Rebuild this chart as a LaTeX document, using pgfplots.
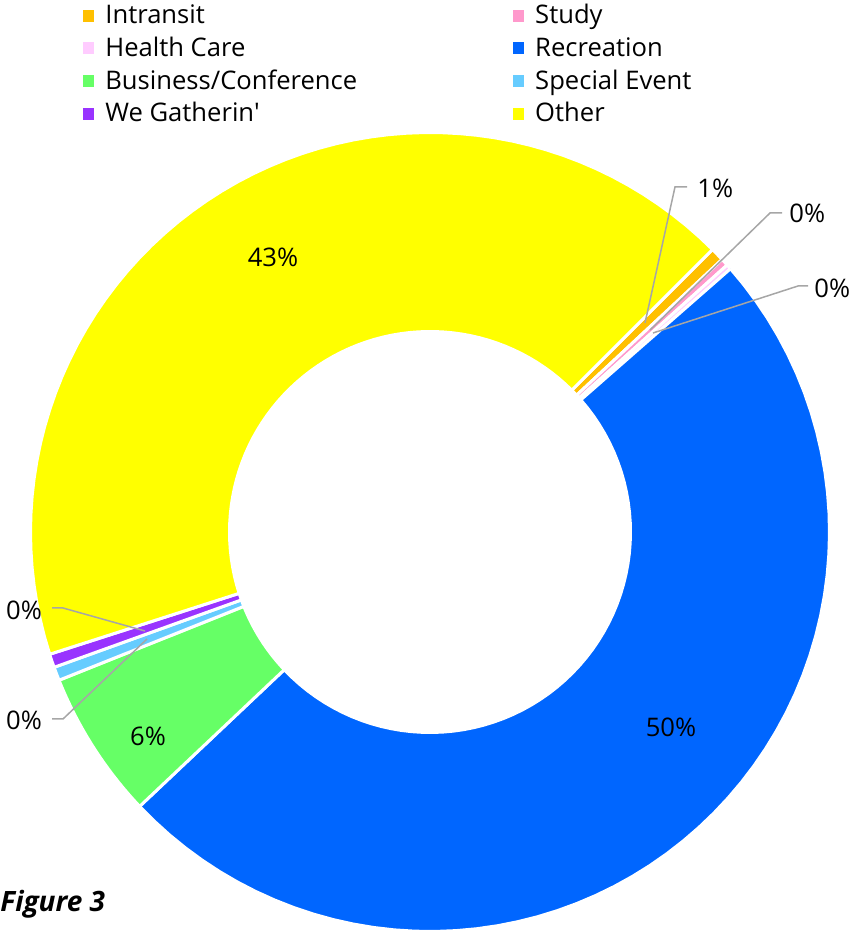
\documentclass[border=0pt]{standalone}
\usepackage{fontspec}
\setmainfont{Open Sans}
\usepackage{pgfplots}
\pgfplotsset{compat=1.18}

\definecolor{cIntransit}{HTML}{FFC000}
\definecolor{cStudy}{HTML}{FF99CC}
\definecolor{cHealth}{HTML}{FFCCFF}
\definecolor{cRec}{HTML}{0066FF}
\definecolor{cBus}{HTML}{66FF66}
\definecolor{cSpecial}{HTML}{66CCFF}
\definecolor{cGather}{HTML}{9933FF}
\definecolor{cOther}{HTML}{FFFF00}
\definecolor{leader}{HTML}{A6A6A6}

\newcommand\lbl{\fontsize{12.8pt}{15pt}\selectfont}

% donut geometry (figure pixel units, y up)
\def\cx{430}\def\cy{401}\def\Ro{399.5}\def\Ri{200.5}
\def\startangle{45}
\gdef\cum{0}

% #1 = share in percent, #2 = colour, #3 = legend text
\newcommand\slice[3]{%
  \pgfmathsetmacro\angA{\startangle+3.6*\cum}%
  \pgfmathsetmacro\angB{\startangle+3.6*(\cum+#1)}%
  \pgfmathsetmacro\newcum{\cum+#1}%
  \xdef\cum{\newcum}%
  \edef\doslice{\noexpand\addplot[fill=#2, draw=white, line width=1.5pt,
      line join=round, samples at={0,...,122}]
    ({\cx+ifthenelse(or(x<=60,x>=122),\Ro,\Ri)*sin(ifthenelse(x<=60,\angA+x/60*(\angB-\angA),ifthenelse(x<=121,\angB-(x-61)/60*(\angB-\angA),\angA)))},
     {\cy+ifthenelse(or(x<=60,x>=122),\Ro,\Ri)*cos(ifthenelse(x<=60,\angA+x/60*(\angB-\angA),ifthenelse(x<=121,\angB-(x-61)/60*(\angB-\angA),\angA)))});
    \noexpand\addlegendentry{\unexpanded{#3}}}%
  \doslice}

\begin{document}
\begin{tikzpicture}
\useasboundingbox (0,0) rectangle (427pt,466.5pt);
\begin{axis}[
    at={(0,0)}, anchor=south west,
    x=0.5pt, y=0.5pt,
    xmin=0, xmax=854, ymin=0, ymax=933,
    hide axis, clip=false,
    legend columns=2,
    legend cell align=left,
    legend image code/.code={\fill[#1,draw=none] (0pt,-2pt) rectangle (5.5pt,4pt);},
    legend style={draw=none, fill=none, font=\lbl,
        at={(axis cs:83,928)}, anchor=north west,
        inner sep=0pt, row sep=4.03pt, column sep=5.5pt,
        nodes={inner sep=0pt, text height=9.3pt, text depth=3pt},
        /tikz/every even column/.append style={column sep=78pt}},
]
\slice{0.55}{cIntransit}{Intransit}
\slice{0.3}{cStudy}{Study}
\slice{0.2}{cHealth}{Health Care}
\slice{49.4}{cRec}{Recreation}
\slice{6.0}{cBus}{Business/Conference}
\slice{0.55}{cSpecial}{Special Event}
\slice{0.55}{cGather}{We Gatherin\textquotesingle}
\slice{42.45}{cOther}{Other}

% leader lines
\draw[leader, line width=0.75pt] (axis cs:645,610) -- (axis cs:675,746) -- (axis cs:687,746);
\draw[leader, line width=0.75pt] (axis cs:650,603) -- (axis cs:770,720) -- (axis cs:782,720);
\draw[leader, line width=0.75pt] (axis cs:653,600) -- (axis cs:798,647) -- (axis cs:808,647);
\draw[leader, line width=0.75pt] (axis cs:52,325) -- (axis cs:63,325) -- (axis cs:145,302);
\draw[leader, line width=0.75pt] (axis cs:52,214) -- (axis cs:63,214) -- (axis cs:147,294);

% data labels
\node[font=\lbl, inner sep=0pt] at (axis cs:273,676) {43\%};
\node[font=\lbl, inner sep=0pt] at (axis cs:671,206) {50\%};
\node[font=\lbl, inner sep=0pt] at (axis cs:148,197) {6\%};
\node[font=\lbl, inner sep=0pt, anchor=west] at (axis cs:697,745) {1\%};
\node[font=\lbl, inner sep=0pt, anchor=west] at (axis cs:789,720) {0\%};
\node[font=\lbl, inner sep=0pt, anchor=west] at (axis cs:814,645) {0\%};
\node[font=\lbl, inner sep=0pt] at (axis cs:24,323) {0\%};
\node[font=\lbl, inner sep=0pt] at (axis cs:24,213) {0\%};

\node[font=\fontsize{14pt}{16pt}\selectfont\bfseries\itshape, inner sep=0pt, anchor=west] at (axis cs:0,29) {Figure 3};
\end{axis}
\end{tikzpicture}
\end{document}
